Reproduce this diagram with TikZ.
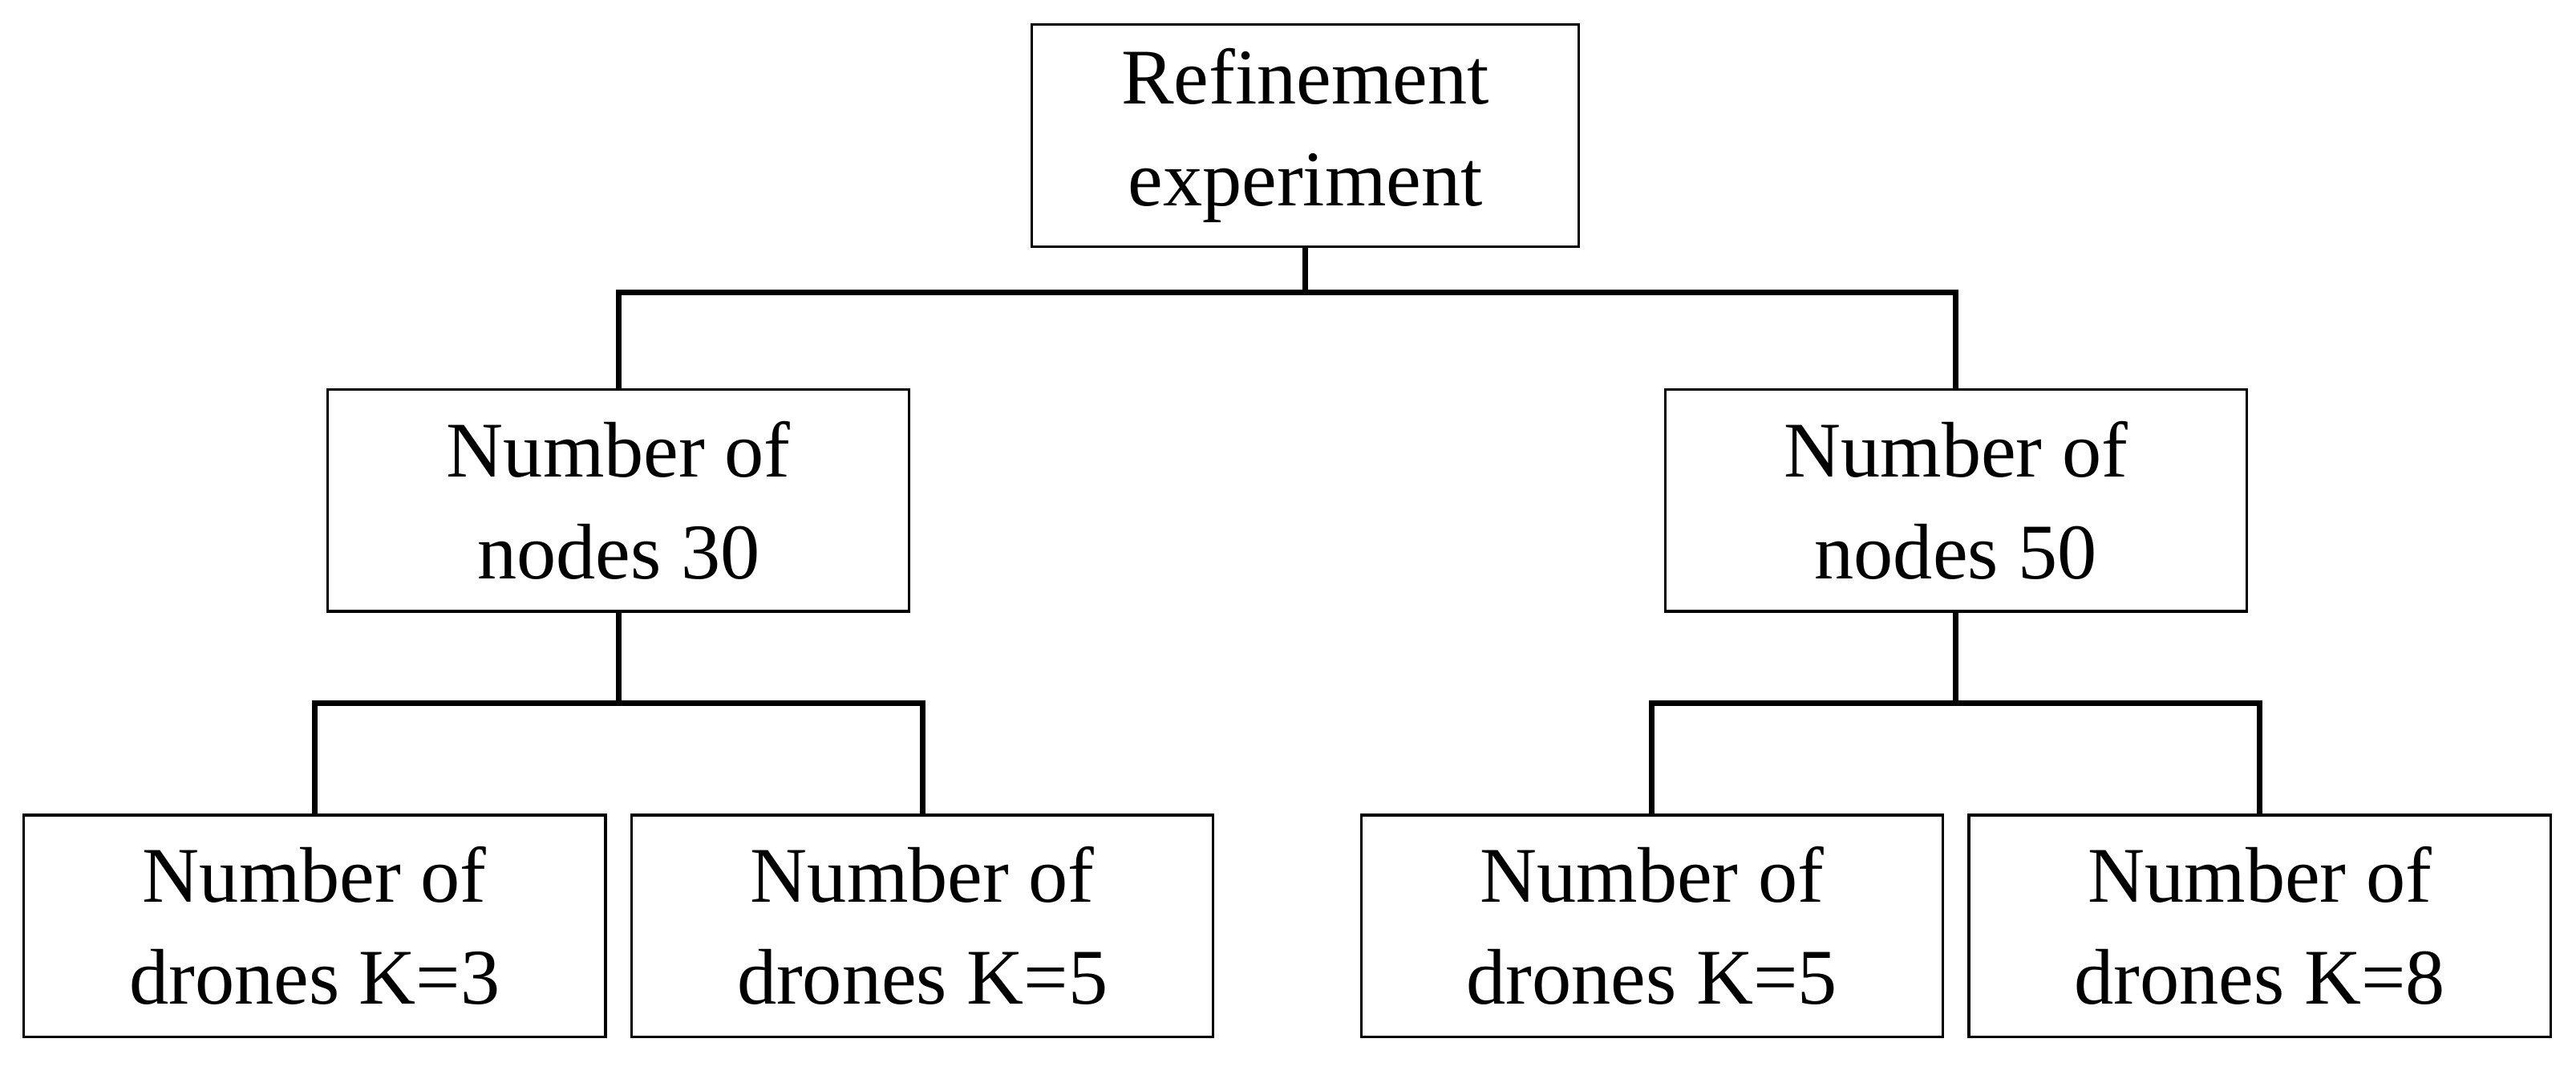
\documentclass[tikz,border=0pt]{standalone}
\usepackage{fontspec}
\setmainfont{Liberation Serif}
\begin{document}
\begin{tikzpicture}[x=0.5pt,y=-0.5pt,
  box/.style={draw,line width=0.8pt,minimum width=177pt,minimum height=67.5pt,align=center,font=\fontsize{24}{31}\selectfont,inner sep=0pt},
  conn/.style={line width=1.6pt}]
\useasboundingbox (0,0) rectangle (1568,649);
\node[box,minimum width=166.5pt] (top) at (794.5,82.5) {Refinement\\experiment};
\node[box] (m1) at (376.5,304.5) {Number of\\nodes 30};
\node[box] (m2) at (1190.5,304.5) {Number of\\nodes 50};
\node[box] (b1) at (191.5,563.5) {Number of\\drones K=3};
\node[box] (b2) at (561.5,563.5) {Number of\\drones K=5};
\node[box] (b3) at (1005.5,563.5) {Number of\\drones K=5};
\node[box] (b4) at (1375.5,563.5) {Number of\\drones K=8};
\coordinate (j0) at (794.5,178);
\coordinate (j1) at (376.5,428);
\coordinate (j2) at (1190.5,428);
\draw[conn] (top.south) -- (j0);
\draw[conn] (m1.north) |- (j0) -| (m2.north);
\draw[conn] (m1.south) -- (j1);
\draw[conn] (b1.north) |- (j1) -| (b2.north);
\draw[conn] (m2.south) -- (j2);
\draw[conn] (b3.north) |- (j2) -| (b4.north);
\end{tikzpicture}
\end{document}
